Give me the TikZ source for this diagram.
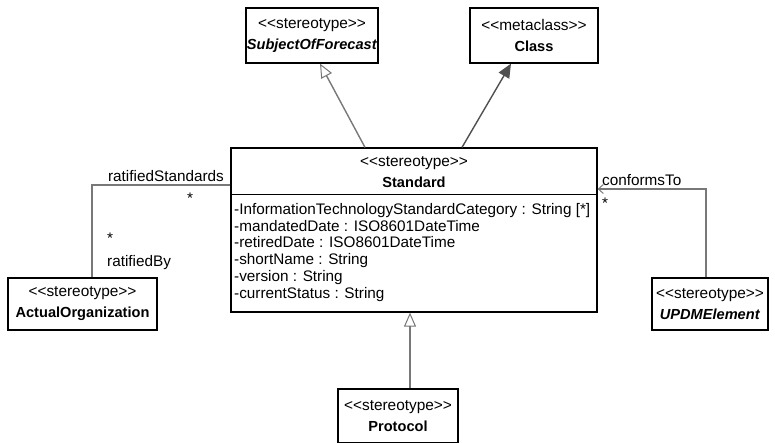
\documentclass[tikz,border=0pt]{standalone}
\usepackage{fontspec}
\setmainfont{Liberation Sans}
\usepackage{xcolor}
\usepackage{tikz}
\usetikzlibrary{arrows.meta,positioning}
\definecolor{linegray}{RGB}{120,120,120}
\definecolor{tipgray}{RGB}{80,80,80}
\newcommand{\stype}[1]{<{}<#1>{}>}
\newcommand{\cname}[1]{{\fontsize{14.6}{20}\selectfont\bfseries #1}}

\begin{document}
\begin{tikzpicture}[x=1pt, y=-1pt,
    cls/.style={rectangle, draw=black, line width=1.2pt, inner sep=0pt, fill=white,
        align=center, font=\fontsize{15.4}{20}\selectfont},
    stdtxt/.style={inner sep=0pt, font=\fontsize{15.4}{20}\selectfont, align=center},
    attrs/.style={inner sep=0pt, anchor=north west, align=left, font=\fontsize{15.3}{16.8}\selectfont},
    lbl/.style={inner sep=0pt, font=\fontsize{15.3}{17}\selectfont},
    gen/.style={-{Triangle[open, length=14pt, width=12pt, line width=1pt]}, draw=linegray, line width=1.4pt},
    meta/.style={-{Triangle[length=14pt, width=12pt]}, draw=linegray, line width=1.4pt, tipgray},
    assoc/.style={draw=linegray, line width=1.4pt},
    nav/.style={-{Straight Barb[length=5pt, width=9pt, line width=1pt]}, draw=linegray, line width=1.4pt}
]
\useasboundingbox (0,0) rectangle (775,443);

% class boxes
\node[cls, minimum width=132pt, minimum height=55pt] (sof) at (312,35.5)
    {\stype{stereotype}\\[1pt]\cname{\textit{SubjectOfForecast}}};
\node[cls, minimum width=128pt, minimum height=55pt] (meta) at (534,35.5)
    {\stype{metaclass}\\[1pt]\cname{Class}};
\node[cls, minimum width=149pt, minimum height=52pt] (aorg) at (82.5,304)
    {\stype{stereotype}\\[1pt]\cname{ActualOrganization}};
\node[cls, minimum width=116pt, minimum height=52pt] (updm) at (710,304)
    {\stype{stereotype}\\[1pt]\cname{\textit{UPDMElement}}};
\node[cls, minimum width=120pt, minimum height=54pt] (proto) at (398,416)
    {\stype{stereotype}\\[1pt]\cname{Protocol}};

% Standard with its attributes
\node[cls, minimum width=366pt, minimum height=164pt] (std) at (414,230) {};
\node[stdtxt] (stdname) at (414,172) {\stype{stereotype}\\[1pt]\cname{Standard}};
\draw[line width=1.2pt] ([yshift=-47pt]std.north west) -- ([yshift=-47pt]std.north east);
\node[attrs] (stdattr) at (234,203) {-InformationTechnologyStandardCategory : String [*]\\
    -mandatedDate : ISO8601DateTime\\
    -retiredDate : ISO8601DateTime\\
    -shortName : String\\
    -version : String\\
    -currentStatus : String};

% connectors
\draw[gen] ([xshift=-49pt]std.north) -- ([xshift=8pt]sof.south);
\draw[meta] ([xshift=48pt]std.north) -- ([xshift=-23pt]meta.south);
\draw[gen] ([xshift=12pt]proto.north) -- ([xshift=-4pt]std.south);
\draw[assoc] ([xshift=9.5pt]aorg.north) |- ([yshift=45pt]std.west);
\draw[nav] ([xshift=-4pt]updm.north) |- ([yshift=41pt]std.east);

% association labels
\node[lbl, anchor=south east] (ratstd) at (224,182) {ratifiedStandards};
\node[lbl] (ratstdm) at (190,198) {*};
\node[lbl] (ratbym) at (110,238) {*};
\node[lbl, anchor=west] (ratby) at (107,263) {ratifiedBy};
\node[lbl, anchor=south west] (conf) at (602,186) {conformsTo};
\node[lbl] (confm) at (605,203) {*};
\end{tikzpicture}
\end{document}
